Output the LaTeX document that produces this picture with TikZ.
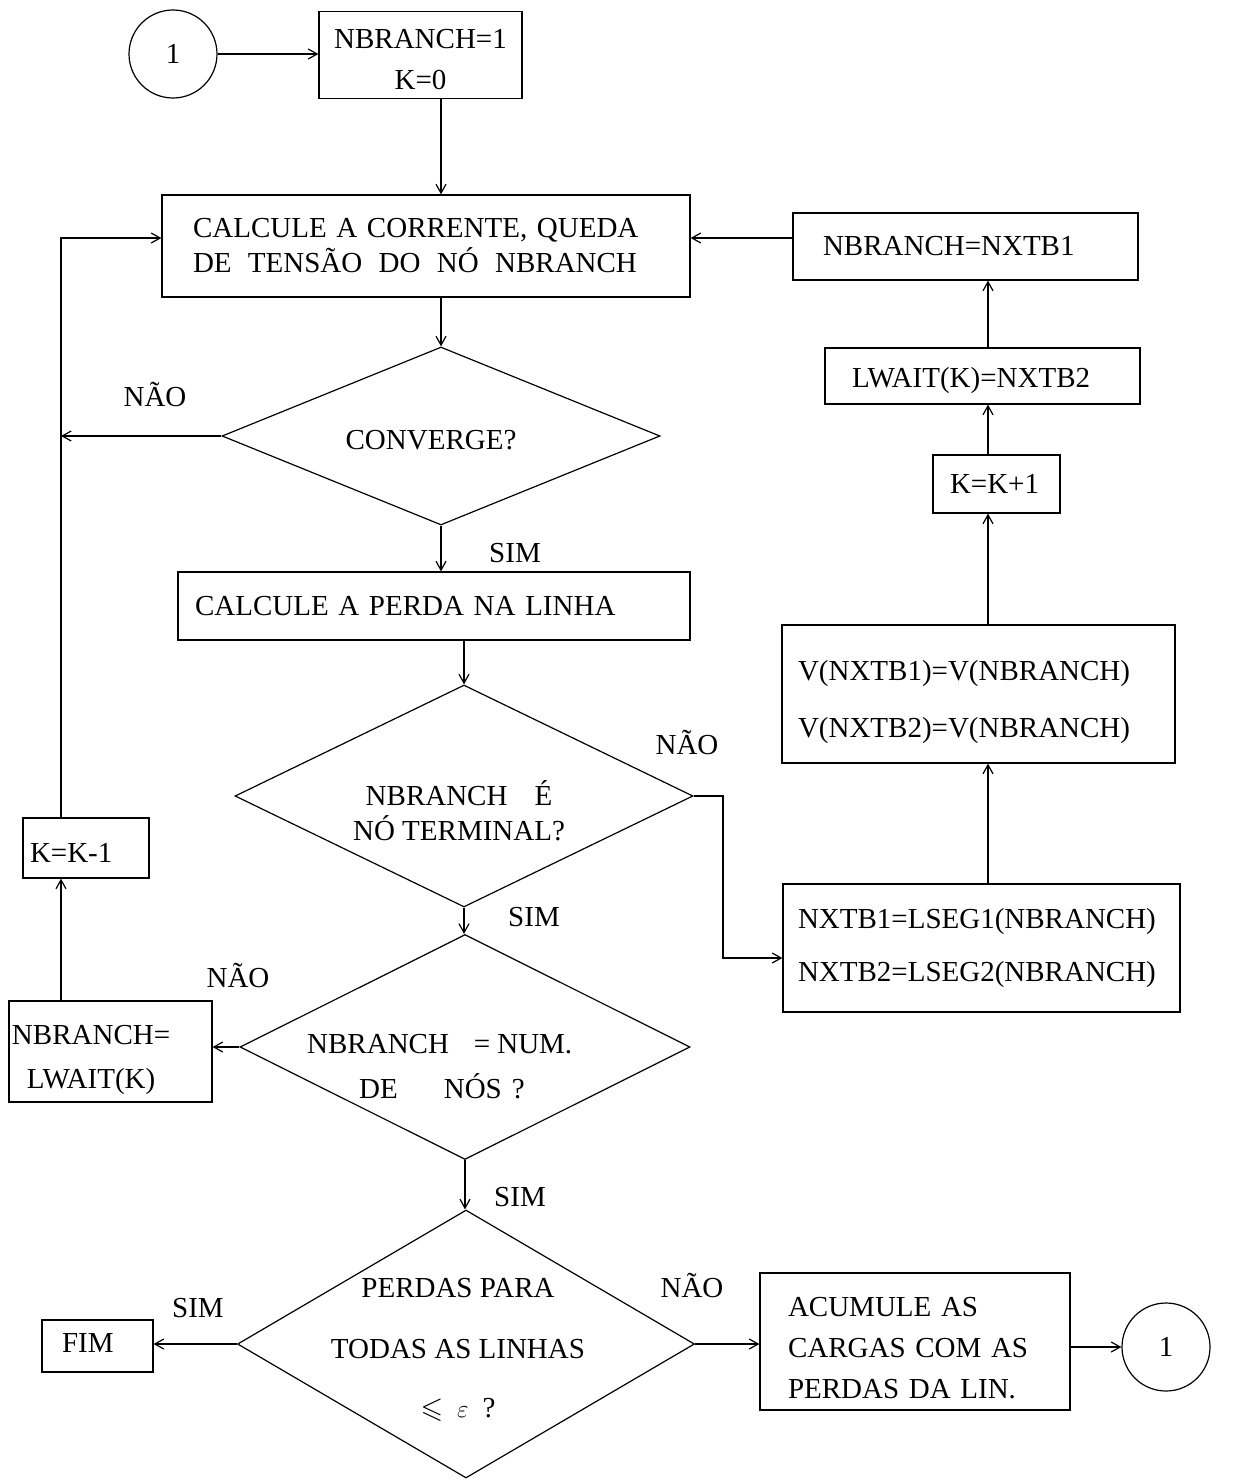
\documentclass[tikz,border=0pt]{standalone}
\usepackage{amssymb}
\usepackage{fontspec}
\setmainfont{Liberation Serif}
\usetikzlibrary{arrows.meta,shapes.geometric}

\tikzset{
  base/.style={font=\fontsize{29}{35}\selectfont},
  box/.style={draw, line width=1.2pt, inner sep=0pt},
  btxt/.style={base, align=left, inner sep=0pt},
  ctxt/.style={base, align=center, inner sep=0pt},
  dia/.style={draw, diamond, line width=1.2pt, inner sep=0pt},
  txt/.style={base, align=center, inner sep=0pt},
  ltxt/.style={base, align=left, inner sep=0pt},
  conn/.style={line width=1.2pt},
  arr/.style={conn, -{Straight Barb[length=9pt,width=10pt,line width=1.2pt]}},
  joint/.style={draw, circle, line width=1.2pt, minimum size=88pt, inner sep=0pt, base}
}

\begin{document}
\begin{tikzpicture}[x=1pt, y=-1pt]
\fill[white] (0,0) rectangle (1239,1480);
\useasboundingbox (0,0) rectangle (1239,1480);

% helper columns / rows
\coordinate (colL) at (61,0);
\coordinate (colR) at (988,0);
\coordinate (rowTop) at (0,238);
\coordinate (nx) at (723,958);

% start connector and first block
\node[joint] (c1) at (173,54) {1};
\node[box, minimum width=203pt, minimum height=87pt,
  label={[ctxt, yshift=-5pt]center:{NBRANCH=1\\[6pt]K=0}}] (b0) at (420.5,55) {};

% main loop
\node[box, minimum width=528pt, minimum height=102pt,
  label={[btxt, text width=466pt]center:{CALCULE A CORRENTE, QUEDA\\\hbox to 444pt{DE\hfill TENSÃO\hfill DO\hfill NÓ\hfill NBRANCH}}}] (b1) at (426,246) {};
\node[dia, minimum width=438pt, minimum height=178pt] (d1) at (441,436) {};
\node[txt] (t1) at (431,440) {CONVERGE?};
\node[box, minimum width=512pt, minimum height=68pt,
  label={[btxt, text width=478pt]center:{CALCULE A PERDA NA LINHA}}] (b7) at (434,606) {};

\node[dia, minimum width=458pt, minimum height=222pt] (d2) at (464,796) {};
\node[txt] (t2) at (459,811) {NBRANCH\hspace{27pt}É\\NÓ TERMINAL?};

\node[dia, minimum width=450pt, minimum height=225pt] (d3) at (465,1047) {};
\node[ltxt, anchor=west] (t3) at (307,1067) {NBRANCH\hspace{25pt}=\hspace{7pt}NUM.\\[10pt]\hspace*{52pt}DE\hspace{46pt}NÓS\hspace{10pt}?};

\node[dia, minimum width=457pt, minimum height=268pt] (d4) at (466,1344) {};
\node[txt] (t4) at (458,1350) {PERDAS PARA\\[26pt]TODAS AS LINHAS\\[24pt]$\leqslant$\hspace{14pt}$\varepsilon$\hspace{14pt}?};

% right column
\node[box, minimum width=345pt, minimum height=67pt,
  label={[btxt, text width=285pt]center:{NBRANCH=NXTB1}}] (b2) at (965.5,246.5) {};
\node[box, minimum width=315pt, minimum height=56pt,
  label={[btxt, text width=261pt, yshift=-5pt]center:{LWAIT(K)=NXTB2}}] (b3) at (982.5,376) {};
\node[box, minimum width=127pt, minimum height=58pt,
  label={[btxt, text width=93pt]center:{K=K+1}}] (b4) at (996.5,484) {};
\node[box, minimum width=393pt, minimum height=138pt,
  label={[btxt, text width=361pt, yshift=-8pt]center:{V(NXTB1)=V(NBRANCH)\\[22pt]V(NXTB2)=V(NBRANCH)}}] (b5) at (978.5,694) {};
\node[box, minimum width=397pt, minimum height=128pt,
  label={[btxt, text width=367pt]center:{NXTB1=LSEG1(NBRANCH)\\[18pt]NXTB2=LSEG2(NBRANCH)}}] (b6) at (981.5,948) {};

% left column
\node[box, minimum width=126pt, minimum height=60pt,
  label={[btxt, text width=112pt, yshift=-5pt]center:{K=K-1}}] (b10) at (86,848) {};
\node[box, minimum width=203pt, minimum height=101pt,
  label={[btxt, text width=197pt, yshift=-8pt]center:{NBRANCH=\\[9pt]\hspace*{15pt}LWAIT(K)}}] (b11) at (110.5,1051.5) {};

% bottom row
\node[box, minimum width=111pt, minimum height=52pt,
  label={[btxt, text width=71pt, yshift=3pt]center:{FIM}}] (b8) at (97.5,1346) {};
\node[box, minimum width=310pt, minimum height=137pt,
  label={[btxt, text width=254pt, yshift=-7pt]center:{ACUMULE AS\\[6pt]CARGAS COM AS\\[6pt]PERDAS DA LIN.}}] (b9) at (915,1341.5) {};
\node[joint] (c2) at (1166,1347) {1};

% branch labels
\node[txt] (l1) at (155,395) {NÃO};
\node[txt] (l2) at (515,553) {SIM};
\node[txt] (l3) at (687,742) {NÃO};
\node[txt] (l4) at (534,917) {SIM};
\node[txt] (l5) at (238,975) {NÃO};
\node[txt] (l6) at (520,1197) {SIM};
\node[txt] (l7) at (198,1308) {SIM};
\node[txt] (l8) at (692,1285) {NÃO};

% connectors
\draw[arr] (c1.east) -- (c1.east -| b0.west);
\draw[arr] (b0.south -| d1.north) -- (b1.north -| d1.north);
\draw[arr] (b1.south -| d1.north) -- (d1.north);
\draw[arr] (d1.south) -- (d1.south |- b7.north);
\draw[arr] (d1.west) -- (d1.west -| colL);
\draw[arr] (b7.south -| d2.north) -- (d2.north);
\draw[arr] (d2.south) -- (d2.south |- d3.north);
\draw[arr] (d3.south) -- (d3.south |- d4.north);
\draw[arr] (d2.east) -| (nx) -- (nx -| b6.west);
\draw[arr] (b6.north -| colR) -- (b5.south -| colR);
\draw[arr] (b5.north -| colR) -- (b4.south -| colR);
\draw[arr] (b4.north -| colR) -- (b3.south -| colR);
\draw[arr] (b3.north -| colR) -- (b2.south -| colR);
\draw[arr] (b2.west |- rowTop) -- (b1.east |- rowTop);
\draw[arr] (d3.west) -- (d3.west -| b11.east);
\draw[arr] (b11.north -| colL) -- (b10.south -| colL);
\draw[arr] (b10.north -| colL) |- (b1.west |- rowTop);
\draw[arr] (d4.west) -- (d4.west -| b8.east);
\draw[arr] (d4.east) -- (d4.east -| b9.west);
\draw[arr] (c2.west -| b9.east) -- (c2.west);
\end{tikzpicture}
\end{document}
